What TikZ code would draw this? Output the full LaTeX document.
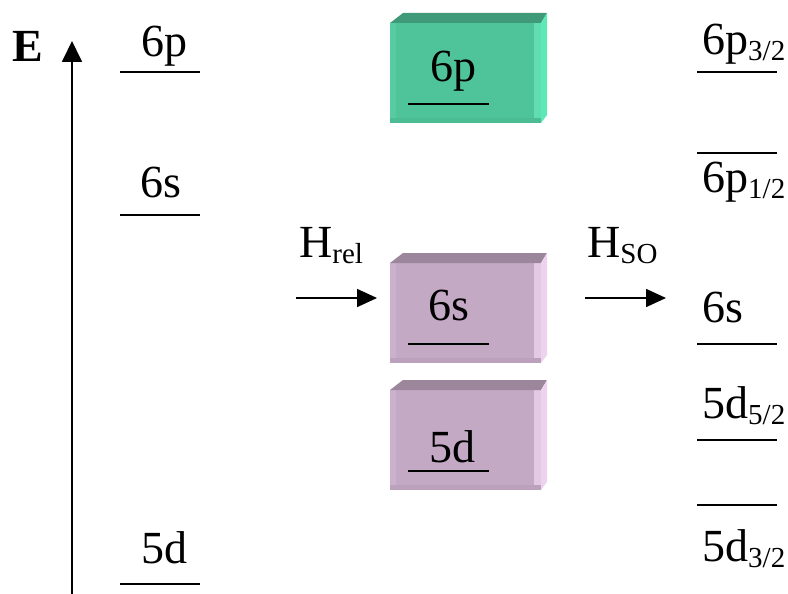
\documentclass[tikz,border=0pt]{standalone}
\usepackage{fontspec}
\setmainfont{Liberation Serif}
\usetikzlibrary{arrows.meta}
\definecolor{gfront}{HTML}{4FC49B}
\definecolor{gtop}{HTML}{3F9A7A}
\definecolor{gside}{HTML}{5EE8B6}
\definecolor{gleft}{HTML}{58CBA3}
\definecolor{gright}{HTML}{62DDB2}
\definecolor{gbot}{HTML}{4BBC94}
\definecolor{pfront}{HTML}{C4A9C4}
\definecolor{ptop}{HTML}{9C869C}
\definecolor{pside}{HTML}{EDD3ED}
\definecolor{pleft}{HTML}{CBB1CB}
\definecolor{pright}{HTML}{E3C9E3}
\definecolor{pbot}{HTML}{BBA1BB}
\newcommand{\cubebox}[3]{%
  % #1 = top y of front face, #2 = colour prefix, #3 = name
  \fill[#2front] (390,#1) rectangle (541,#1+100);
  \fill[#2left] (390,#1) rectangle (396,#1+100);
  \fill[#2right] (534,#1) rectangle (541,#1+100);
  \fill[#2bot] (390,#1+95) rectangle (541,#1+100);
  \fill[#2top] (390,#1) -- (403,#1-10) -- (547,#1-10) -- (541,#1) -- cycle;
  \fill[#2side] (541,#1) -- (547,#1-10) -- (547,#1+92) -- (541,#1+100) -- cycle;
  \coordinate (#3ul) at (408,#1+81);
  \coordinate (#3ur) at (489,#1+81);
}
\tikzset{
  lbl/.style={anchor=base, inner sep=0pt, font=\fontsize{46}{48}\selectfont},
  lvl/.style={line width=1.6pt},
  harrow/.style={line width=1.6pt, -{Triangle[length=20pt,width=18pt]}},
}
\newcommand{\sub}[1]{\raisebox{-6pt}{\fontsize{29}{29}\selectfont #1}}
\begin{document}
\begin{tikzpicture}[x=1pt,y=-1pt]
\useasboundingbox (0,0) rectangle (788,594);
% energy axis
\coordinate (axb) at (72,594);
\coordinate (axt) at (72,41);
\draw[line width=1.8pt, -{Triangle[length=21pt,width=20pt]}] (axb) -- (axt);
\node[lbl, font=\fontsize{46}{48}\selectfont\bfseries] (E) at (28,62) {E};
% left column
\node[lbl] (l6p) at (164,57) {6p};
\coordinate (l6pa) at (120,72); \coordinate (l6pb) at (200,72);
\draw[lvl] (l6pa) -- (l6pb);
\node[lbl] (l6s) at (161,197) {6s};
\coordinate (l6sa) at (120,215); \coordinate (l6sb) at (200,215);
\draw[lvl] (l6sa) -- (l6sb);
\node[lbl] (l5d) at (164,563) {5d};
\coordinate (l5da) at (120,584); \coordinate (l5db) at (200,584);
\draw[lvl] (l5da) -- (l5db);
% boxes
\cubebox{23}{g}{b1}
\cubebox{263}{p}{b2}
\cubebox{390}{p}{b3}
\node[lbl] (m6p) at (453,82) {6p};
\draw[lvl] (b1ul) -- (b1ur);
\node[lbl] (m6s) at (449,320) {6s};
\draw[lvl] (b2ul) -- (b2ur);
\node[lbl] (m5d) at (452,462) {5d};
\draw[lvl] (b3ul) -- (b3ur);
% operators
\node[lbl, anchor=base west] (hrel) at (299,257) {H\sub{rel}};
\coordinate (ha1) at (296,298); \coordinate (ha2) at (377,298);
\draw[harrow] (ha1) -- (ha2);
\node[lbl, anchor=base west] (hso) at (587,257) {H\sub{SO}};
\coordinate (hb1) at (585,298); \coordinate (hb2) at (666,298);
\draw[harrow] (hb1) -- (hb2);
% right column
\node[lbl, anchor=base west] (r6p3) at (702,55) {6p\sub{3/2}};
\coordinate (r1a) at (697,72); \coordinate (r1b) at (777,72);
\draw[lvl] (r1a) -- (r1b);
\coordinate (r2a) at (697,153); \coordinate (r2b) at (777,153);
\draw[lvl] (r2a) -- (r2b);
\node[lbl, anchor=base west] (r6p1) at (702,192) {6p\sub{1/2}};
\node[lbl, anchor=base west] (r6s) at (702,322) {6s};
\coordinate (r3a) at (697,344); \coordinate (r3b) at (777,344);
\draw[lvl] (r3a) -- (r3b);
\node[lbl, anchor=base west] (r5d5) at (702,418) {5d\sub{5/2}};
\coordinate (r4a) at (697,440); \coordinate (r4b) at (777,440);
\draw[lvl] (r4a) -- (r4b);
\coordinate (r5a) at (697,505); \coordinate (r5b) at (777,505);
\draw[lvl] (r5a) -- (r5b);
\node[lbl, anchor=base west] (r5d3) at (702,561) {5d\sub{3/2}};
\end{tikzpicture}
\end{document}
